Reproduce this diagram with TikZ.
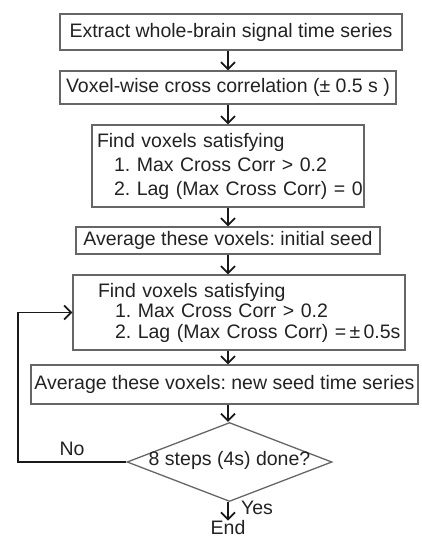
\documentclass[tikz,border=0pt]{standalone}
\usepackage{fontspec}
\setmainfont{Liberation Sans}
\usetikzlibrary{arrows.meta,shapes.geometric}
\definecolor{boxline}{HTML}{666666}
\definecolor{ink}{HTML}{222222}
\begin{document}
\begin{tikzpicture}[x=1pt,y=-1pt,
  every node/.style={font=\fontsize{19.5}{24}\selectfont\frenchspacing, text=ink},
  stepbox/.style={draw=boxline, line width=1.3pt, rectangle, inner sep=0pt, align=center},
  listbox/.style={draw=boxline, line width=1.3pt, rectangle, inner xsep=5pt, inner ysep=0pt, align=left},
  decide/.style={draw=boxline, line width=1.3pt, diamond, inner sep=0pt, aspect=2.6,
    text height=8pt, text depth=2pt, minimum width=205pt, minimum height=79pt},
  flow/.style={draw=black!90, line width=1.8pt, -{Straight Barb[length=7pt,width=14pt]}},
  lbl/.style={inner sep=0pt}]
\useasboundingbox (0,0) rectangle (421,540);

% column of the vertical connectors
\coordinate (col) at (228,0);
\coordinate (loopx) at (18,0);

\node[stepbox, minimum width=342pt, minimum height=36pt] (b1) at (231,32)
  {Extract whole-brain signal time series};
\node[stepbox, minimum width=336pt, minimum height=33pt] (b2) at (228,87.5)
  {Voxel-wise cross correlation (± 0.5 s )};
\node[listbox, text width=262pt, minimum height=82pt] (b3) at (228,166)
  {\mbox{Find voxels satisfying}\\%
   \mbox{\hspace*{17pt}1. Max Cross Corr > 0.2}\\%
   \mbox{\hspace*{17pt}2. Lag (Max Cross Corr) = 0}};
\node[stepbox, minimum width=304pt, minimum height=27pt] (b4) at (228,240.5)
  {Average these voxels: initial seed};
\node[listbox, text width=322pt, minimum height=75pt,
      font=\fontsize{19.5}{20.5}\selectfont\frenchspacing] (b5) at (239,312.5)
  {\mbox{\hspace*{20pt}Find voxels satisfying}\\%
   \mbox{\hspace*{37pt}1. Max Cross Corr > 0.2}\\%
   \mbox{\hspace*{37pt}2. Lag (Max Cross Corr) =\,±\,0.5s}};
\node[stepbox, minimum width=387pt, minimum height=39pt] (b6) at (224.5,384.5)
  {Average these voxels: new seed time series};
\node[decide] (dia) at (229.5,462) {8 steps (4s) done?};
\node[lbl] (endn) at (228,528) {End};

\draw[flow] (b1.south -| col) -- (b2.north -| col);
\draw[flow] (b2.south -| col) -- (b3.north -| col);
\draw[flow] (b3.south -| col) -- (b4.north -| col);
\draw[flow] (b4.south -| col) -- (b5.north -| col);
\draw[flow] (b5.south -| col) -- (b6.north -| col);
\draw[flow] (b6.south -| col) -- (dia.north -| col);
\draw[flow] (dia.south -| col) -- (endn.north -| col);
\draw[flow] (dia.west) -- (dia.west -| loopx) |- (b5.west);

\node[lbl] at (72,449) {No};
\node[lbl] at (257,508) {Yes};
\end{tikzpicture}
\end{document}
